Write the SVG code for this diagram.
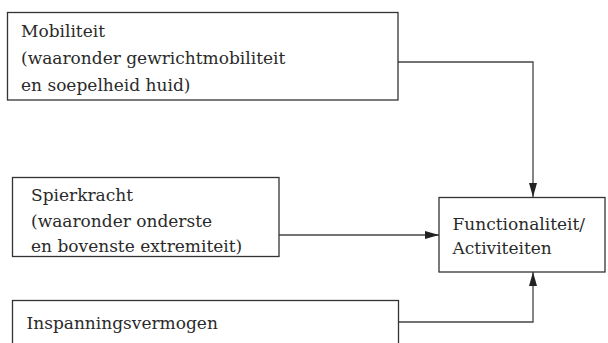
<svg xmlns="http://www.w3.org/2000/svg" width="608" height="343" viewBox="0 0 608 343">
<defs>
<style>
.box{fill:#fff;stroke:#333;stroke-width:1.3}
.t{font-family:"DejaVu Serif","Liberation Serif",serif;font-size:17px;fill:#2a2a2a}
.c{fill:none;stroke:#444;stroke-width:1.3}
</style>
<marker id="ah" viewBox="0 0 14 8" refX="14" refY="4" markerWidth="14" markerHeight="8" markerUnits="userSpaceOnUse" orient="auto">
<path d="M0,0 L14,4 L0,8 Z" fill="#222"/>
</marker>
</defs>
<g id="connectors">
<path class="c" d="M398,62 H533 V197" marker-end="url(#ah)"/>
<path class="c" d="M279,235 H439" marker-end="url(#ah)"/>
<path class="c" d="M398,322 H533 V272" marker-end="url(#ah)"/>
</g>
<g id="mobiliteit">
<rect class="box" x="7.5" y="12.5" width="390.5" height="87.5"/>
<text class="t" x="21" y="37">Mobiliteit</text>
<text class="t" x="21" y="64">(waaronder gewrichtmobiliteit</text>
<text class="t" x="21" y="90.5">en soepelheid huid)</text>
</g>
<g id="spierkracht">
<rect class="box" x="12.5" y="177.5" width="266.5" height="79"/>
<text class="t" x="31" y="200.5">Spierkracht</text>
<text class="t" x="31" y="226.5">(waaronder onderste</text>
<text class="t" x="31" y="252">en bovenste extremiteit)</text>
</g>
<g id="functionaliteit">
<rect class="box" x="439" y="197.5" width="166" height="74.5"/>
<text class="t" x="452.5" y="229.5">Functionaliteit/</text>
<text class="t" x="452.5" y="253.5">Activiteiten</text>
</g>
<g id="inspanningsvermogen">
<rect class="box" x="12.5" y="300.5" width="386" height="60"/>
<text class="t" x="26.5" y="328.5">Inspanningsvermogen</text>
</g>
</svg>
